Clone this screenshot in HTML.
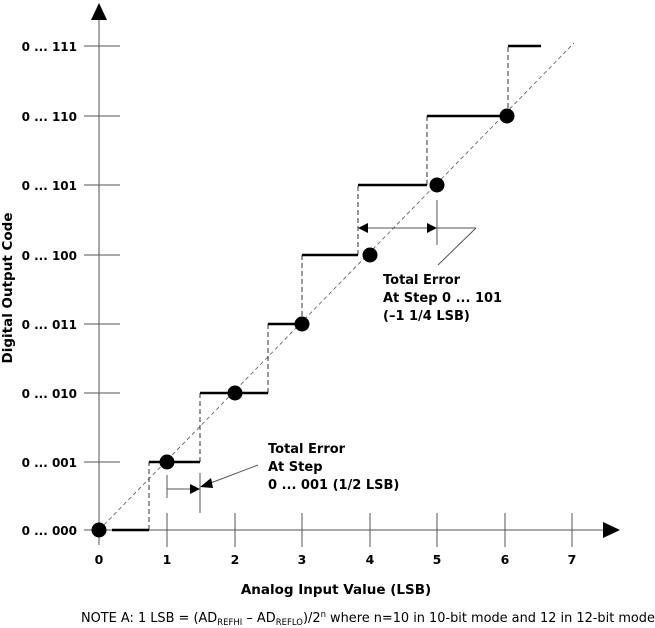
<!DOCTYPE html>
<html><head><style>body{margin:0;background:#fff}svg{display:block}text{font-family:"DejaVu Sans","Liberation Sans",sans-serif}</style></head><body>
<svg width="655" height="628" viewBox="0 0 655 628">
<g stroke="#555" stroke-width="1">
<line x1="99" y1="18" x2="99" y2="545"/>
<line x1="84" y1="530" x2="608" y2="530"/>
<line x1="84" y1="462" x2="120" y2="462"/><line x1="84" y1="393" x2="120" y2="393"/><line x1="84" y1="324" x2="120" y2="324"/><line x1="84" y1="255" x2="120" y2="255"/><line x1="84" y1="185" x2="120" y2="185"/><line x1="84" y1="116" x2="120" y2="116"/><line x1="84" y1="46" x2="120" y2="46"/>
<line x1="167" y1="513" x2="167" y2="547"/><line x1="235" y1="513" x2="235" y2="547"/><line x1="302" y1="513" x2="302" y2="547"/><line x1="370" y1="513" x2="370" y2="547"/><line x1="437" y1="513" x2="437" y2="547"/><line x1="505" y1="513" x2="505" y2="547"/><line x1="572" y1="513" x2="572" y2="547"/>
</g>
<polygon points="99,3 91,20 107,20" fill="#000"/>
<polygon points="620,530 603,522 603,538" fill="#000"/>
<line x1="99" y1="530" x2="574" y2="43" stroke="#555" stroke-width="0.8" stroke-dasharray="4,3"/>
<g stroke="#333" stroke-width="1" stroke-dasharray="5,3">
<line x1="149" y1="530" x2="149" y2="462"/><line x1="200" y1="462" x2="200" y2="393"/><line x1="268" y1="393" x2="268" y2="324"/><line x1="302" y1="324" x2="302" y2="255"/><line x1="358" y1="255" x2="358" y2="185"/><line x1="427" y1="185" x2="427" y2="116"/><line x1="508" y1="116" x2="508" y2="46"/>
</g>
<g stroke="#000" stroke-width="2.5">
<line x1="112" y1="530" x2="149" y2="530"/><line x1="149" y1="462" x2="200" y2="462"/><line x1="200" y1="393" x2="268" y2="393"/><line x1="268" y1="324" x2="302" y2="324"/><line x1="302" y1="255" x2="358" y2="255"/><line x1="358" y1="185" x2="427" y2="185"/><line x1="427" y1="116" x2="505" y2="116"/><line x1="508" y1="46" x2="541" y2="46"/>
</g>
<g fill="#000"><circle cx="99" cy="530" r="7.5"/><circle cx="167" cy="462" r="7.5"/><circle cx="235" cy="393" r="7.5"/><circle cx="302" cy="324" r="7.5"/><circle cx="370" cy="255" r="7.5"/><circle cx="437" cy="185" r="7.5"/><circle cx="507" cy="116" r="7.5"/></g>
<g stroke="#555" stroke-width="1">
<line x1="167" y1="475" x2="167" y2="498"/><line x1="167" y1="489" x2="192" y2="489"/><line x1="200" y1="473" x2="200" y2="513"/><line x1="258" y1="465" x2="208" y2="484"/>
<line x1="366" y1="228" x2="476" y2="228"/><line x1="437" y1="200" x2="437" y2="245"/><line x1="476" y1="228" x2="438" y2="265"/>
</g>
<g fill="#000">
<polygon points="200,489 190,484 190,494"/><polygon points="200,487 211,478 213,488"/>
<polygon points="358,228 368,223 368,233"/><polygon points="437,228 427,223 427,233"/>
</g>
<g font-size="13" font-weight="bold" fill="#000">
<text x="268" y="453">Total Error</text><text x="268" y="471">At Step</text><text x="268" y="489">0 ... 001 (1/2 LSB)</text>
<text x="383" y="284">Total Error</text><text x="383" y="302">At Step 0 ... 101</text><text x="383" y="320">(–1 1/4 LSB)</text>
</g>
<g font-size="12" font-weight="bold" text-anchor="end">
<text x="77" y="535">0 ... 000</text><text x="77" y="467">0 ... 001</text><text x="77" y="398">0 ... 010</text><text x="77" y="329">0 ... 011</text><text x="77" y="260">0 ... 100</text><text x="77" y="190">0 ... 101</text><text x="77" y="121">0 ... 110</text><text x="77" y="51">0 ... 111</text>
</g>
<g font-size="12.5" font-weight="bold" text-anchor="middle">
<text x="99" y="564">0</text><text x="167" y="564">1</text><text x="235" y="564">2</text><text x="302" y="564">3</text><text x="370" y="564">4</text><text x="437" y="564">5</text><text x="505" y="564">6</text><text x="572" y="564">7</text>
</g>
<g font-size="13.5" font-weight="bold" text-anchor="middle">
<text x="336" y="594">Analog Input Value (LSB)</text>
<text transform="translate(12,288) rotate(-90)">Digital Output Code</text>
</g>
<text x="81" y="622" font-size="12.9" fill="#000">NOTE A:  1 LSB = (AD<tspan font-size="8.5" dy="3">REFHI</tspan><tspan dy="-3"> – AD</tspan><tspan font-size="8.5" dy="3">REFLO</tspan><tspan dy="-3">)/2</tspan><tspan font-size="8.5" dy="-5">n</tspan><tspan dy="5"> where n=10 in 10-bit mode and 12 in 12-bit mode</tspan></text>
</svg>
</body></html>
